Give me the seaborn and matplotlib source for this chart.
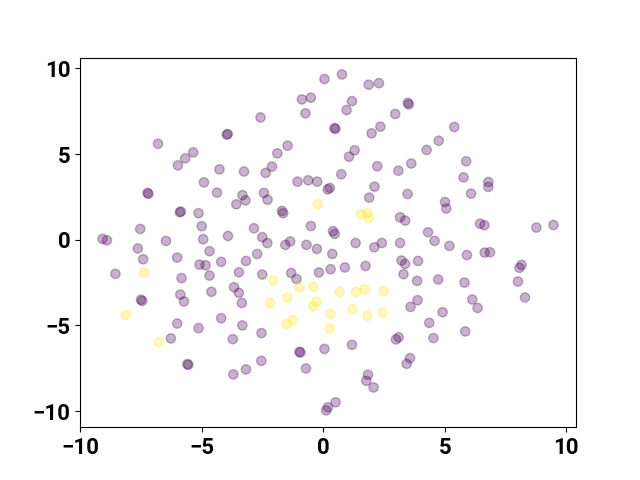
import numpy as np
import pandas as pd
import matplotlib
matplotlib.use("Agg")
import matplotlib.pyplot as plt
import seaborn as sns

# embedded 2-D points, class 0 (purple)
x0 = [-6.8, -3.97, -3.93, -5.35, -5.68, -5.98, -4.27, -3.26, -4.91, -2.58,
      0.05, 0.77, 1.87, 2.29, -0.88, -0.51, -0.73, 1.18, 0.96, 3.48,
      3.52, 2.96, 0.46, 0.5, 2.35, 1.99, 1.29, 1.06, -1.47, -1.89,
      -2.11, -2.37, -1.06, -0.62, -0.25, 0.74, 2.22, 3.09, 3.62, 5.39,
      4.75, 4.25, 5.88, 5.77, 6.79, 6.79, -4.37, -7.23, -7.19, -3.32,
      -3.2, -3.58, -5.9, -5.86, -5.13, -7.53, -5.0, -3.92, -9.08, -8.9,
      -6.47, -4.94, -7.63, -4.68, -7.41, -6.01, -5.09, -4.84, -4.2, -3.18,
      -8.55, -5.83, -4.68, -3.47, -5.88, -5.73, -4.6, -3.67, -3.47, -7.5,
      -7.45, -3.35, 0.18, 0.27, 2.11, 1.89, 3.47, -2.44, -2.29, -1.7,
      -1.65, 3.16, 3.37, -0.51, -2.85, 0.4, 0.47, -2.51, -2.3, -1.56,
      -1.36, -0.69, -0.26, 1.33, 2.1, 2.41, 3.16, 0.37, -2.72, 3.22,
      3.37, -2.51, -1.32, -1.1, -0.18, 0.3, 0.89, 1.74, 3.3, 6.08,
      5.01, 5.06, 4.31, 4.58, 5.19, 6.45, 6.63, 8.77, 9.47, 5.91,
      6.64, 6.86, 8.16, 8.07, 3.9, 3.86, 4.73, 5.81, 8.01, 8.3,
      3.88, 6.13, 6.35, 3.59, 4.91, 4.36, 4.53, 5.84, 3.1, 2.99,
      3.57, 3.43, -6.01, -5.13, -4.2, -3.33, -6.27, -3.72, -5.59, -5.55,
      -3.7, -3.18, -2.54, -2.55, -0.98, -0.94, -0.71, 0.05, 1.18, 1.84,
      1.77, 2.07, 0.51, 0.19, 0.12]
y0 = [5.6, 6.13, 6.17, 5.1, 4.75, 4.34, 4.11, 3.98, 3.35, 7.14,
      9.38, 9.65, 9.05, 9.14, 8.19, 8.29, 7.38, 8.09, 7.57, 7.99,
      7.9, 7.34, 6.52, 6.47, 6.6, 6.21, 5.22, 4.85, 5.49, 5.04,
      4.27, 3.9, 3.39, 3.47, 3.39, 3.82, 4.29, 4.03, 4.45, 6.58,
      5.78, 5.24, 4.58, 3.64, 3.37, 3.08, 2.75, 2.73, 2.68, 2.6,
      2.3, 2.07, 1.6, 1.65, 1.55, 0.63, 0.79, 0.22, 0.05, -0.03,
      -0.07, 0.03, -0.51, -0.67, -1.14, -1.04, -1.45, -1.49, -1.29, -1.24,
      -1.99, -2.24, -2.09, -1.9, -3.2, -3.6, -3.04, -2.77, -3.1, -3.5,
      -3.57, -3.69, 2.94, 3.02, 3.1, 2.46, 2.67, 2.73, 2.34, 1.68,
      1.55, 1.31, 1.12, 0.8, 0.67, 0.5, 0.34, 0.15, -0.19, -0.3,
      -0.1, -0.3, -0.54, -0.19, -0.44, -0.19, -0.19, -0.83, -0.83, -1.21,
      -1.41, -2.03, -1.94, -2.29, -1.91, -1.72, -1.62, -1.53, -2.01, 2.69,
      2.2, 1.82, 0.44, -0.07, -0.36, 0.94, 0.85, 0.71, 0.86, -0.89,
      -0.75, -0.73, -1.47, -1.64, -1.24, -2.4, -2.32, -2.5, -2.44, -3.37,
      -3.53, -3.49, -3.98, -3.92, -4.23, -4.85, -5.74, -5.35, -5.69, -5.82,
      -6.91, -7.24, -4.89, -5.16, -4.58, -5.0, -5.76, -5.8, -7.26, -7.3,
      -7.86, -7.57, -5.45, -7.07, -6.54, -6.58, -7.51, -6.37, -6.13, -7.88,
      -8.23, -8.62, -9.49, -9.78, -9.96]

# class 1 (yellow)
x1 = [-7.37, -0.23, 1.55, 1.81, 1.88, -2.06, -0.98, -0.41, 0.67, 1.35,
      1.69, 2.48, -1.48, -0.29, -0.42, -2.19, -8.12, -6.75, -1.51, -1.26,
      0.3, 0.26, 1.21, 1.81, 2.46]
y1 = [-1.91, 2.07, 1.47, 1.56, 1.25, -2.38, -2.77, -2.75, -3.04, -3.04,
      -2.89, -3.0, -3.37, -3.62, -3.88, -3.69, -4.4, -5.98, -4.93, -4.69,
      -4.33, -5.18, -4.05, -4.44, -4.25]

df = pd.DataFrame({
    "x": x0 + x1,
    "y": y0 + y1,
    "label": [0] * len(x0) + [1] * len(x1),
})

cmap = plt.get_cmap("viridis")
palette = {0: cmap(0.0), 1: cmap(1.0)}

plt.rcParams["font.family"] = ["Roboto", "DejaVu Sans"]
plt.rcParams["font.weight"] = "bold"

fig, ax = plt.subplots(figsize=(6.4, 4.8), dpi=100)
sns.scatterplot(data=df, x="x", y="y", hue="label", palette=palette,
                alpha=0.3, s=45, edgecolor="face", linewidth=1.0,
                legend=False, ax=ax)
ax.set_xlabel("")
ax.set_ylabel("")
ax.set_xticks([-10, -5, 0, 5, 10])
ax.set_yticks([-10, -5, 0, 5, 10])
ax.tick_params(labelsize=16)
for lab in ax.get_xticklabels() + ax.get_yticklabels():
    lab.set_fontweight("bold")

fig.savefig("out.png", dpi=100)
